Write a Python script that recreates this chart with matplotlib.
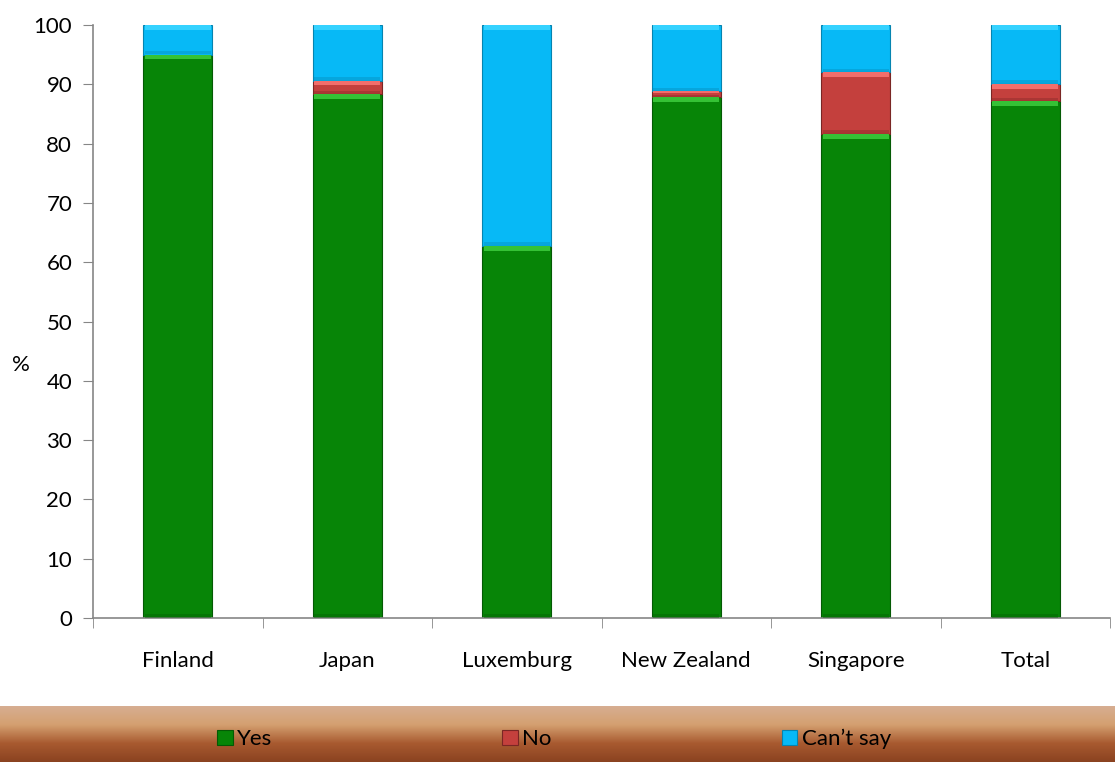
import numpy as np
import matplotlib
matplotlib.use("Agg")
import matplotlib.pyplot as plt
from matplotlib.patches import Patch
from matplotlib.colors import LinearSegmentedColormap

plt.rcParams['font.family'] = ['Lato', 'DejaVu Sans']

categories = ["Finland", "Japan", "Luxemburg", "New Zealand", "Singapore", "Total"]
yes = [95.0, 88.3, 62.7, 87.8, 81.6, 87.1]
no = [0.0, 2.2, 0.0, 1.0, 10.4, 2.9]
cant_say = [5.0, 9.5, 37.3, 11.2, 8.0, 10.0]

series_names = ["Yes", "No", "Can\u2019t say"]
face = ["#078507", "#c4403d", "#07b9f6"]
light = ["#35c235", "#f26e6b", "#35d2ff"]
dark = ["#045a04", "#7a2624", "#0584b0"]

fig = plt.figure(figsize=(11.15, 7.62), dpi=100)
ax = fig.add_axes([93 / 1115, 1 - 618 / 762, (1110 - 93) / 1115, (618 - 25) / 762])

x = np.arange(len(categories))
width = 0.41
bottom = np.zeros(len(categories))
for vals, fc, lc, dc in zip([yes, no, cant_say], face, light, dark):
    vals = np.asarray(vals)
    ax.bar(x, vals, width, bottom=bottom, color=fc, edgecolor=dc, linewidth=0.8, zorder=2)
    # bevel: light band on top, darker band at the bottom of each segment
    hl = np.minimum(vals * 0.3, 0.8)
    ax.bar(x, hl, width * 0.95, bottom=bottom + vals - hl, color=lc, linewidth=0, zorder=3)
    sh = np.minimum(vals * 0.3, 0.6)
    ax.bar(x, sh, width * 0.95, bottom=bottom + 0.05, color=dc, alpha=0.35, linewidth=0, zorder=3)
    bottom += vals

ax.set_xlim(-0.5, len(categories) - 0.5)
ax.set_ylim(0, 100)
ax.set_yticks(np.arange(0, 101, 10))
ax.set_xticks(x)
ax.set_xticklabels(categories)
ax.set_xticks(np.arange(-0.5, len(categories)), minor=True)
ax.tick_params(axis='x', which='major', length=0, pad=24, labelsize=16)
ax.tick_params(axis='x', which='minor', length=7, color="#868686", direction='out')
ax.tick_params(axis='y', length=7, color="#868686", labelsize=16, pad=8)
for s in ("top", "right"):
    ax.spines[s].set_visible(False)
for s in ("left", "bottom"):
    ax.spines[s].set_color("#868686")
    ax.spines[s].set_linewidth(1.2)
ax.set_ylabel("%", rotation=0, fontsize=16, va="center", ha="center")
ax.yaxis.set_label_coords(-0.071, 0.427)

# legend band with vertical gradient
band = fig.add_axes([0, 0, 1, 56 / 762])
grad = np.linspace(0, 1, 256).reshape(-1, 1)
cmap = LinearSegmentedColormap.from_list("band", ["#d7ae92", "#d4a070", "#a85a30", "#8a4220"])
band.imshow(grad, aspect="auto", cmap=cmap, extent=[0, 1, 0, 1], origin="upper")
band.set_axis_off()

handles = [Patch(facecolor=fc, edgecolor=dc, linewidth=0.8) for fc, dc in zip(face, dark)]
fig.legend(handles, series_names, loc="center left", bbox_to_anchor=(197 / 1115, 23 / 762),
           ncol=3, frameon=False, fontsize=16, handlelength=0.7, handleheight=0.7,
           handletextpad=0.2, columnspacing=10.35)

fig.savefig("out.png", dpi=100)
